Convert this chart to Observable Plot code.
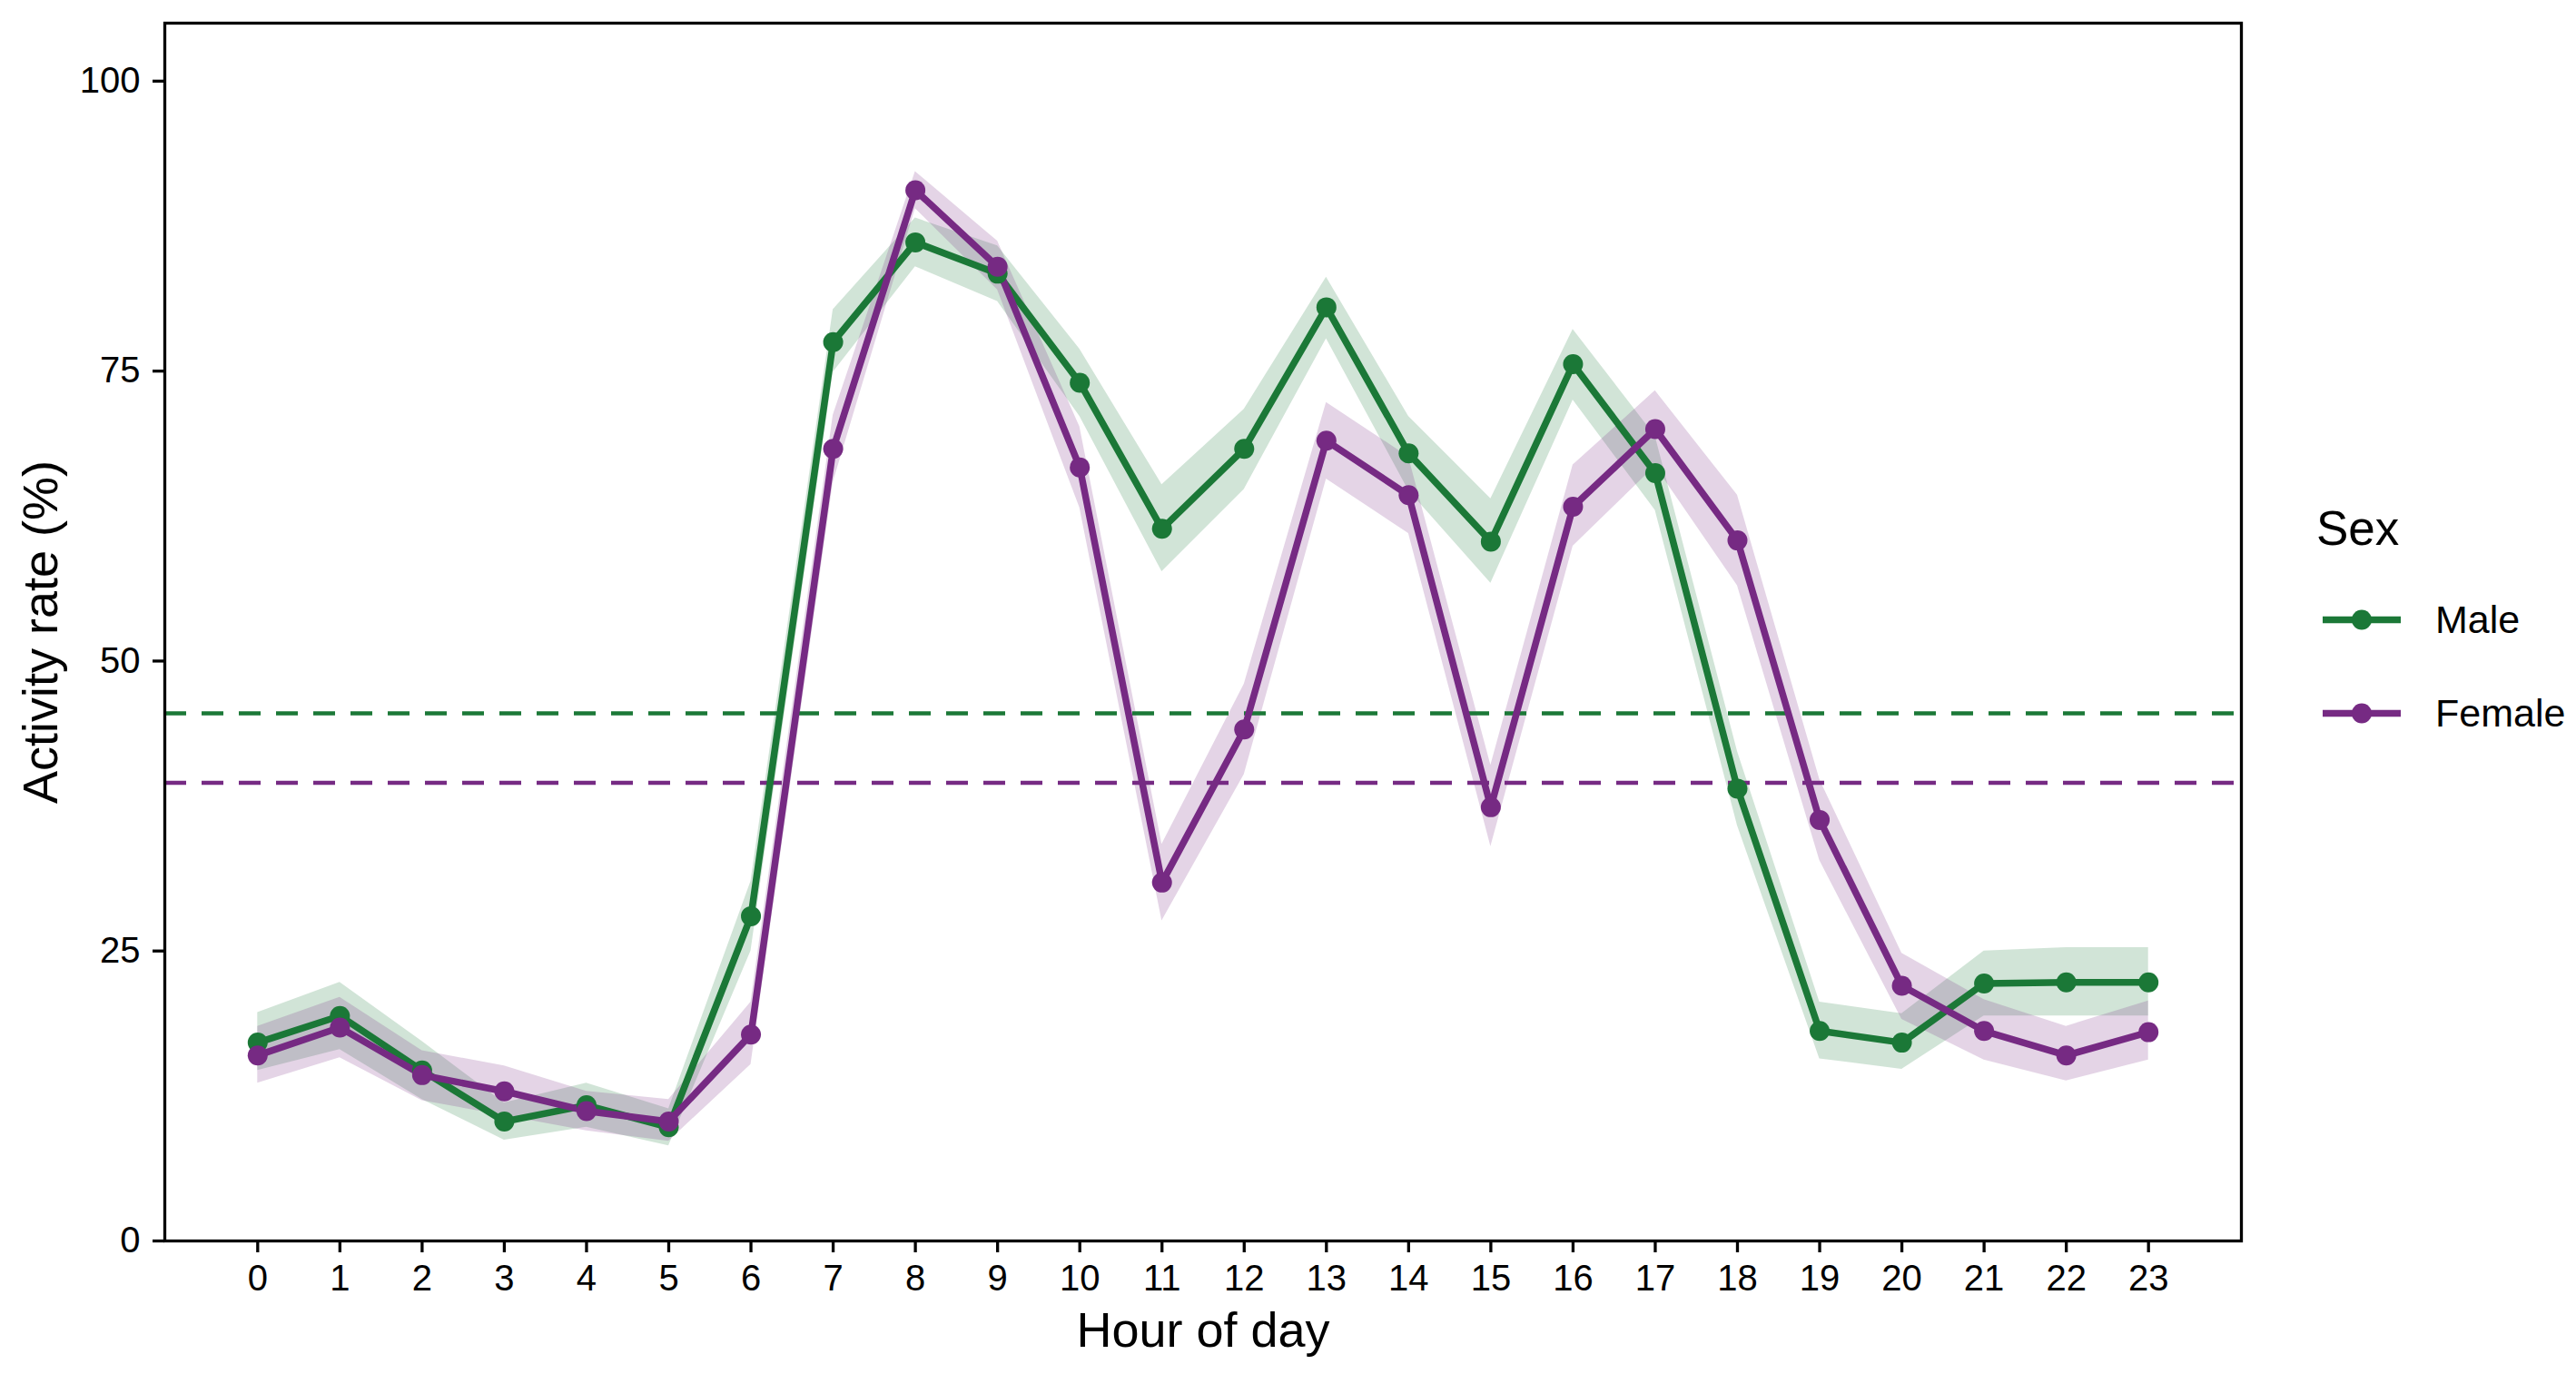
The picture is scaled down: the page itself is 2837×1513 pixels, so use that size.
<!DOCTYPE html>
<html>
<head>
<meta charset="utf-8">
<script src="https://cdn.jsdelivr.net/npm/d3@7"></script>
<script src="https://cdn.jsdelivr.net/npm/@observablehq/plot@0.6"></script>
<style>
  html, body { margin: 0; padding: 0; background: #fff; }
  #wrap { position: relative; width: 2837px; height: 1513px; font-family: "Liberation Sans", Arial, sans-serif; }
  #legend { position: absolute; left: 0; top: 0; width: 2837px; height: 1513px; pointer-events: none; }
  .lg-title { position: absolute; left: 2551px; top: 581px; transform: translateY(-50%); font-size: 53px; color: #000; }
  .lg-item { position: absolute; left: 2558px; transform: translateY(-50%); display: flex; align-items: center; }
  .lg-item span { font-size: 43px; margin-left: 38px; color: #000; }
</style>
</head>
<body>
<div id="wrap"><div id="chart"></div><div id="legend"></div></div>
<script>
const hours = [0,1,2,3,4,5,6,7,8,9,10,11,12,13,14,15,16,17,18,19,20,21,22,23];
const sexes = ["Male", "Female"];
const sexColors = ["#1b7837", "#762a83"];

const maleRate = [17.1,19.4,14.7,10.3,11.7,9.8,28.0,77.5,86.1,83.4,74.0,61.4,68.3,80.5,67.9,60.3,75.6,66.2,39.0,18.1,17.1,22.2,22.3,22.3];
const maleLow  = [14.7,16.5,12.2,8.7,9.8,8.2,25.0,74.9,84.0,81.0,71.1,57.7,64.8,77.8,64.7,56.7,72.5,63.0,35.8,15.7,14.8,19.4,19.4,19.4];
const maleHigh = [19.7,22.3,17.2,11.9,13.6,11.4,31.0,80.3,88.2,85.8,76.9,65.2,71.7,83.1,71.1,64.0,78.6,69.4,42.2,20.6,19.6,25.0,25.3,25.3];

const femaleRate = [16.0,18.4,14.3,12.9,11.2,10.3,17.8,68.3,90.6,84.0,66.7,30.9,44.1,69.0,64.3,37.4,63.3,70.0,60.4,36.3,22.0,18.1,16.0,18.0];
const femaleLow  = [13.6,15.8,12.1,10.8,9.5,8.6,15.2,65.4,89.0,82.0,63.2,27.6,40.2,65.7,61.0,34.0,59.9,66.8,56.5,32.8,19.1,15.6,13.8,15.6];
const femaleHigh = [18.5,21.0,16.4,15.1,12.9,12.2,20.6,71.2,92.2,86.2,70.2,34.2,48.0,72.3,67.6,41.0,66.9,73.3,64.3,39.8,24.8,20.8,18.5,20.7];

const meanRate = [45.5, 39.5];
const yTicks = [0, 25, 50, 75, 100];

const rows = [];
hours.forEach((h, i) => {
  rows.push({hour: h, sex: "Male", rate: maleRate[i], low: maleLow[i], high: maleHigh[i]});
});
hours.forEach((h, i) => {
  rows.push({hour: h, sex: "Female", rate: femaleRate[i], low: femaleLow[i], high: femaleHigh[i]});
});
const means = sexes.map((s, i) => ({sex: s, mean: meanRate[i]}));

const chart = Plot.plot({
  width: 2837,
  height: 1513,
  marginLeft: 181,
  marginRight: 369,
  marginTop: 25,
  marginBottom: 147,
  style: {fontFamily: "'Liberation Sans', Arial, sans-serif", fontSize: "40px", color: "#000", background: "#fff"},
  x: {domain: [-1.13, 24.13]},
  y: {domain: [0, 105]},
  color: {domain: sexes, range: sexColors},
  marks: [
    Plot.areaY(rows, {x: "hour", y1: "low", y2: "high", z: "sex", fill: "sex", fillOpacity: 0.2}),
    Plot.ruleY(means, {y: "mean", stroke: "sex", strokeWidth: 4.5, strokeDasharray: "24,17"}),
    Plot.lineY(rows, {x: "hour", y: "rate", z: "sex", stroke: "sex", strokeWidth: 7.5}),
    Plot.dot(rows, {x: "hour", y: "rate", fill: "sex", r: 11}),
    Plot.frame({stroke: "#000", strokeWidth: 3.3}),
    Plot.axisX({ticks: hours, tickFormat: d => String(d), tickSize: 13, tickPadding: 13, label: null, strokeWidth: 3.3, fontSize: 40}),
    Plot.axisY({ticks: yTicks, tickFormat: d => String(d), tickSize: 13, tickPadding: 14, label: null, strokeWidth: 3.3, fontSize: 40}),
    Plot.text(["Hour of day"], {frameAnchor: "bottom", dy: 99, lineAnchor: "middle", textAnchor: "middle", fontSize: 54, fill: "#000"}),
    Plot.text(["Activity rate (%)"], {frameAnchor: "left", dx: -136, rotate: -90, lineAnchor: "middle", textAnchor: "middle", fontSize: 54, fill: "#000"})
  ]
});
document.getElementById("chart").appendChild(chart);

// legend
const legend = document.getElementById("legend");
const title = document.createElement("div");
title.className = "lg-title";
title.textContent = "Sex";
legend.appendChild(title);
const itemY = [682, 785];
sexes.forEach((s, i) => {
  const item = document.createElement("div");
  item.className = "lg-item";
  item.style.top = itemY[i] + "px";
  const ns = "http://www.w3.org/2000/svg";
  const svg = document.createElementNS(ns, "svg");
  svg.setAttribute("width", "86");
  svg.setAttribute("height", "26");
  const line = document.createElementNS(ns, "line");
  line.setAttribute("x1", "0"); line.setAttribute("x2", "86");
  line.setAttribute("y1", "13"); line.setAttribute("y2", "13");
  line.setAttribute("stroke", sexColors[i]); line.setAttribute("stroke-width", "7.5");
  const c = document.createElementNS(ns, "circle");
  c.setAttribute("cx", "43"); c.setAttribute("cy", "13"); c.setAttribute("r", "11");
  c.setAttribute("fill", sexColors[i]);
  svg.appendChild(line); svg.appendChild(c);
  const lab = document.createElement("span");
  lab.textContent = s;
  item.appendChild(svg); item.appendChild(lab);
  legend.appendChild(item);
});
</script>
</body>
</html>
